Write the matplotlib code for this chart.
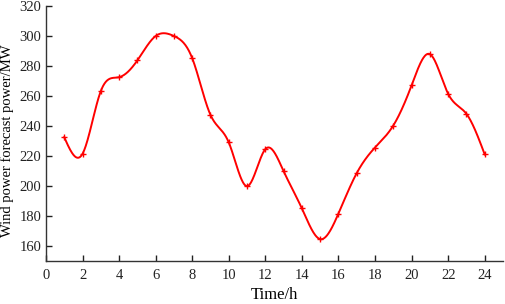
import numpy as np
import matplotlib.pyplot as plt

hours = list(range(1, 25))
power = [232.4, 221.3, 263.2, 272.5, 283.7, 300.0, 300.0, 285.2, 247.3, 228.9,
         199.7, 224.4, 209.7, 184.8, 164.3, 181.4, 208.4, 225.5, 240.2, 267.0,
         287.9, 261.4, 248.0, 220.9]
xticks = list(range(0, 25, 2))
yticks = list(range(160, 321, 20))


def spline(x, y, n=40):
    # natural cubic spline, just for drawing a smooth line through the points
    x = np.asarray(x, float)
    y = np.asarray(y, float)
    k = len(x)
    h = np.diff(x)
    A = np.zeros((k, k))
    b = np.zeros(k)
    A[0, 0] = A[-1, -1] = 1
    for i in range(1, k - 1):
        A[i, i - 1] = h[i - 1]
        A[i, i] = 2 * (h[i - 1] + h[i])
        A[i, i + 1] = h[i]
        b[i] = 6 * ((y[i + 1] - y[i]) / h[i] - (y[i] - y[i - 1]) / h[i - 1])
    M = np.linalg.solve(A, b)
    xs, ys = [], []
    for i in range(k - 1):
        t = np.linspace(x[i], x[i + 1], n, endpoint=False)
        a = (x[i + 1] - t) / h[i]
        c = (t - x[i]) / h[i]
        s = (a * y[i] + c * y[i + 1]
             + ((a ** 3 - a) * M[i] + (c ** 3 - c) * M[i + 1]) * h[i] ** 2 / 6)
        xs.extend(t)
        ys.extend(s)
    xs.append(x[-1])
    ys.append(y[-1])
    return np.array(xs), np.array(ys)


plt.rcParams['font.family'] = ['Liberation Serif', 'DejaVu Serif']

fig = plt.figure(figsize=(5.05, 3.04), dpi=100)
ax = fig.add_axes([0.091, 0.143, 0.905, 0.837])

sx, sy = spline(hours, power)
ax.plot(sx, sy, color='#ff0000', lw=1.4)
ax.plot(hours, power, ls='none', marker='+', ms=4, mew=1, color='#ff0000')

ax.set_xlim(0, 25)
ax.set_ylim(150, 320)
ax.set_xticks(xticks)
ax.set_yticks(yticks)
ax.tick_params(direction='in', length=4, width=1, labelsize=10.5, colors='#222222')
ax.tick_params(axis='x', pad=6)
for s in ['top', 'right']:
    ax.spines[s].set_visible(False)
for s in ['left', 'bottom']:
    ax.spines[s].set_linewidth(1)
    ax.spines[s].set_color('#333333')

ax.set_xlabel('Time/h', fontsize=12, labelpad=4)
ax.set_ylabel('Wind power forecast power/MW', fontsize=10.5)
ax.yaxis.set_label_coords(-0.071, 0.47)

fig.savefig('out.png', dpi=100)
